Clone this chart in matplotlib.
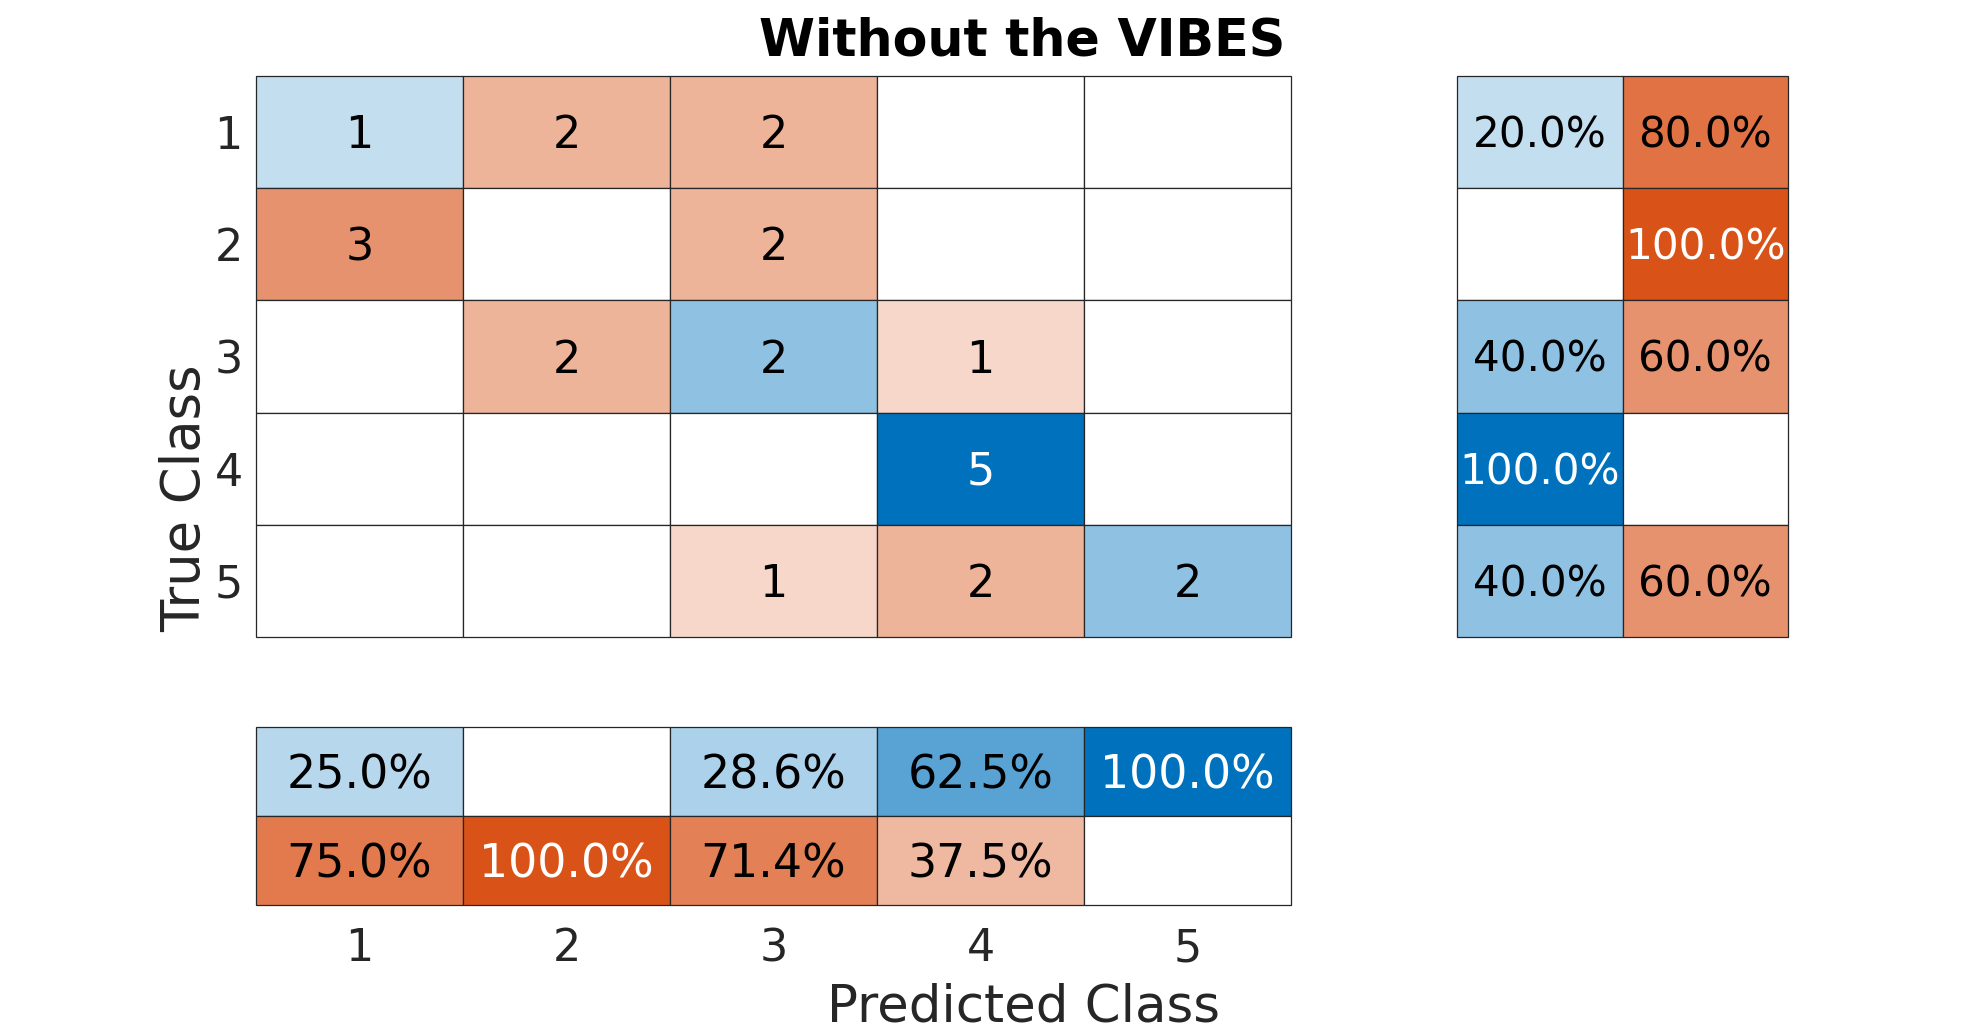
import matplotlib
matplotlib.use("Agg")
import matplotlib.pyplot as plt
from matplotlib.patches import Rectangle
import matplotlib.transforms as mtransforms
import numpy as np

# ---- data ----
classes = ["1", "2", "3", "4", "5"]
confusion = [
    [1, 2, 2, 0, 0],
    [3, 0, 2, 0, 0],
    [0, 2, 2, 1, 0],
    [0, 0, 0, 5, 0],
    [0, 0, 1, 2, 2],
]
row_correct = [20.0, 0.0, 40.0, 100.0, 40.0]
row_incorrect = [80.0, 100.0, 60.0, 0.0, 60.0]
col_correct = [25.0, 0.0, 28.6, 62.5, 100.0]
col_incorrect = [75.0, 100.0, 71.4, 37.5, 0.0]
title = "Without the VIBES"
xlabel = "Predicted Class"
ylabel = "True Class"

# ---- styling ----
W, H, DPI = 1976, 1033, 100
BLUE = np.array([0, 114, 189]) / 255.0
ORANGE = np.array([217, 83, 25]) / 255.0
EDGE = "#262626"
LW = 0.9

fig = plt.figure(figsize=(W / DPI, H / DPI), dpi=DPI)


def shade(base, t):
    t = t ** 0.9
    return tuple(1.0 - t * (1.0 - base))


def draw_cell(ax, x, y, t, base, label, fs):
    fc = (1, 1, 1) if t <= 0 else shade(base, t)
    ax.add_patch(Rectangle((x - 0.5, y - 0.5), 1, 1, facecolor=fc,
                           edgecolor=EDGE, linewidth=LW, zorder=1,
                           clip_on=False))
    if t > 0:
        tc = "white" if t >= 0.9 else "black"
        cap = 0.729 * fs * DPI / 72.0  # cap height in px
        tr = ax.transData + mtransforms.ScaledTranslation(
            0, -cap / 2 / DPI, fig.dpi_scale_trans)
        ax.text(x, y, label, ha="center", va="baseline", fontsize=fs,
                color=tc, zorder=2, transform=tr, clip_on=False)


def fax(x0, y0, x1, y1):
    return fig.add_axes([x0 / W, 1 - y1 / H, (x1 - x0) / W, (y1 - y0) / H])


# main matrix
ax = fax(256, 76, 1291, 637)
cm = np.array(confusion)
vmax = cm.max()
n = len(classes)
for i in range(n):
    for j in range(n):
        v = cm[i, j]
        base = BLUE if i == j else ORANGE
        draw_cell(ax, j + 1, i + 1, v / vmax, base, str(v), 32)
ax.set_xlim(0.5, n + 0.5)
ax.set_ylim(n + 0.5, 0.5)
ax.set_yticks(range(1, n + 1))
ax.set_yticklabels(classes, fontsize=32, color="#262626")
ax.set_xticks([])
ax.tick_params(axis="y", length=0, pad=9.5)
for s in ax.spines.values():
    s.set_visible(False)

# row summary
axr = fax(1457, 76, 1788, 637)
for i in range(n):
    draw_cell(axr, 1, i + 1, row_correct[i] / 100.0, BLUE,
              f"{row_correct[i]:.1f}%", 30.3)
    draw_cell(axr, 2, i + 1, row_incorrect[i] / 100.0, ORANGE,
              f"{row_incorrect[i]:.1f}%", 30.3)
axr.set_xlim(0.5, 2.5)
axr.set_ylim(n + 0.5, 0.5)
axr.set_xticks([])
axr.set_yticks([])
for s in axr.spines.values():
    s.set_visible(False)

# column summary
axc = fax(256, 727, 1291, 905)
for j in range(n):
    draw_cell(axc, j + 1, 1, col_correct[j] / 100.0, BLUE,
              f"{col_correct[j]:.1f}%", 33)
    draw_cell(axc, j + 1, 2, col_incorrect[j] / 100.0, ORANGE,
              f"{col_incorrect[j]:.1f}%", 33)
axc.set_xlim(0.5, n + 0.5)
axc.set_ylim(2.5, 0.5)
axc.set_yticks([])
axc.set_xticks(range(1, n + 1))
axc.set_xticklabels(classes, fontsize=32, color="#262626")
axc.tick_params(axis="x", length=0, pad=16)
for s in axc.spines.values():
    s.set_visible(False)

# title and labels
fig.text(1022 / W, 1 - 55 / H, title, ha="center", va="baseline",
         fontsize=36.5, fontweight="bold", color="black")
fig.text(1023 / W, 1 - 1022 / H, xlabel, ha="center", va="baseline",
         fontsize=37, color="#262626")
fig.text(200 / W, 1 - 498 / H, ylabel, ha="center", va="baseline",
         rotation=90, rotation_mode="anchor", fontsize=38, color="#262626")

fig.savefig("out.png", dpi=DPI)
